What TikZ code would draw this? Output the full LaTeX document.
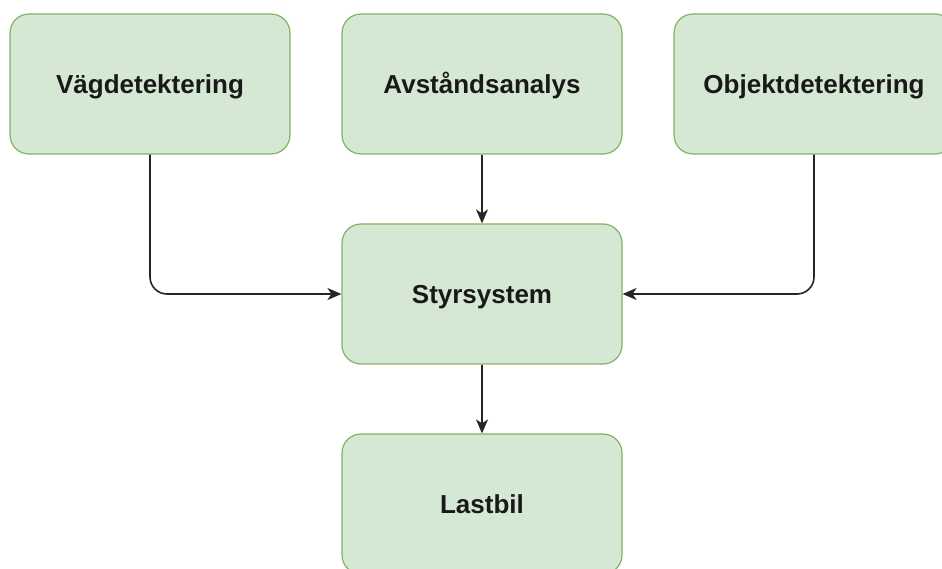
\documentclass[tikz,border=0pt]{standalone}
\usepackage{fontspec}
\setmainfont{Liberation Sans}
\usetikzlibrary{arrows.meta}
\definecolor{boxfill}{HTML}{D5E8D4}
\definecolor{boxline}{HTML}{82B366}
\tikzset{
  block/.style={draw=boxline, fill=boxfill, line width=1.2pt, rectangle,
    rounded corners=19pt, minimum width=280pt, minimum height=140pt, inner sep=0pt,
    font=\fontsize{26}{30}\selectfont\bfseries, text=black!90,
    text height=18.6pt, text depth=0pt},
  link/.style={draw=black!85, line width=1.6pt, rounded corners=17pt,
    -{Stealth[length=14pt,width=12pt,inset=4pt]}}
}
\begin{document}
\begin{tikzpicture}[x=1pt,y=-1pt]
\useasboundingbox (0,0) rectangle (942,569);
\clip (0,0) rectangle (942,569);
\fill[white] (0,0) rectangle (942,569);
\node[block] (vag) at (150,84) {Vägdetektering};
\node[block] (avs) at (482,84) {Avståndsanalys};
\node[block] (obj) at (814,84) {Objektdetektering};
\node[block] (sty) at (482,294) {Styrsystem};
\node[block] (last) at (482,504) {Lastbil};
\draw[link] (vag.south) |- (sty.west);
\draw[link] (obj.south) |- (sty.east);
\draw[link] (avs.south) -- (sty.north);
\draw[link] (sty.south) -- (last.north);
\end{tikzpicture}
\end{document}
